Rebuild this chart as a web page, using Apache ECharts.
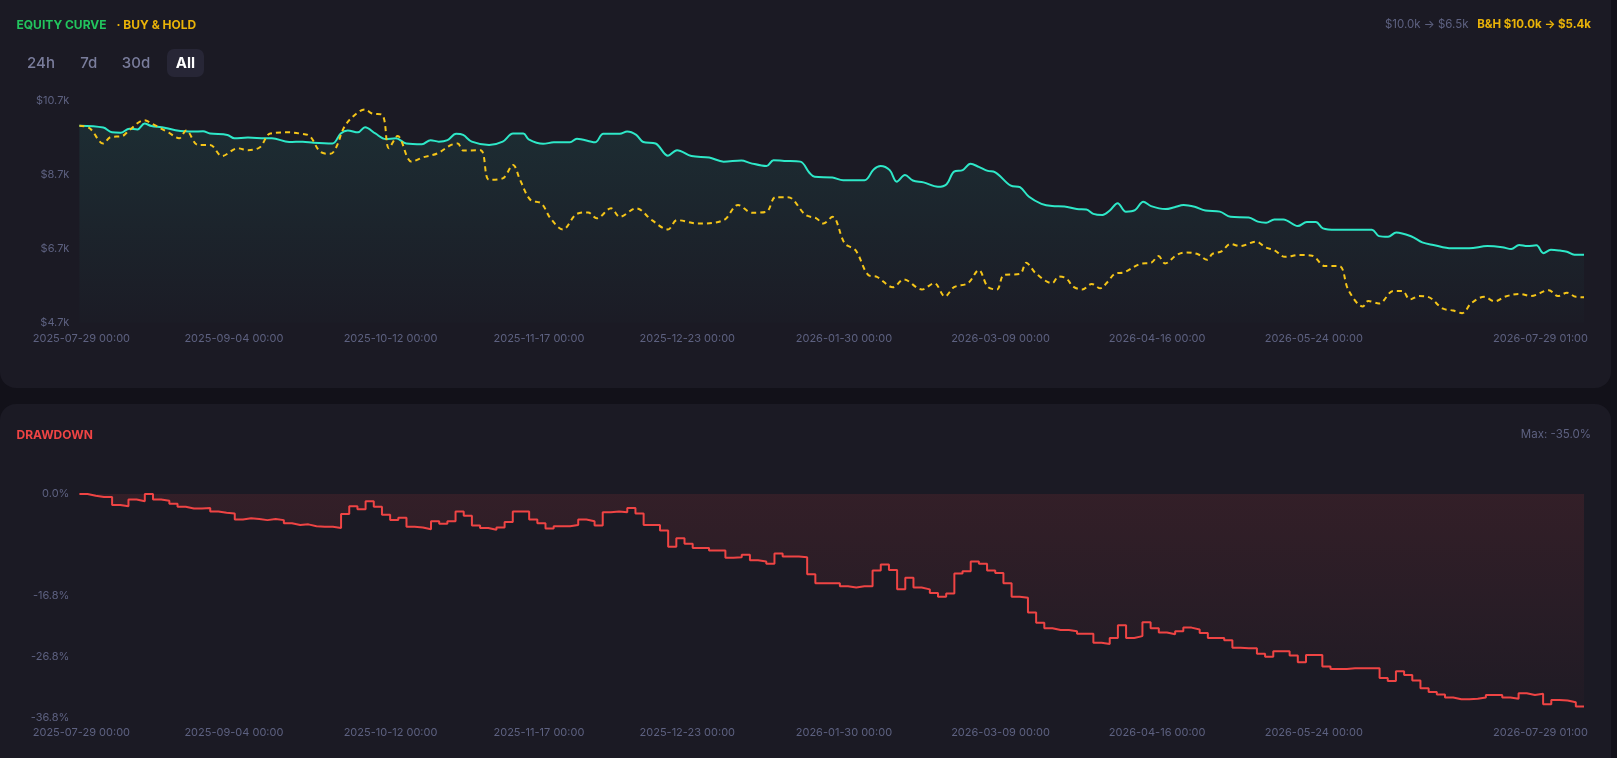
<!DOCTYPE html>
<html>
<head>
<meta charset="utf-8">
<script src="https://cdn.jsdelivr.net/npm/echarts@6/dist/echarts.min.js"></script>
<style>
html,body{margin:0;padding:0;background:#121119;}
#chart{width:1617px;height:758px;}
</style>
</head>
<body>
<div id="chart"></div>
<script>
// ---- Data ----
const START_DATE = [2025, 6, 29, 0, 0];   // 2025-07-29 00:00
const END_DATE = [2026, 6, 29, 1, 0];     // 2026-07-29 01:00

// Strategy equity (k$), day offsets from start
const eqDay = [0,5.8,7.9,10,12.1,14.1,15.8,17.5,20,23.3,27.5,30,31.7,35.9,37.6,40.9,45.1,46.7,50.9,54.2,56.8,61.4,63.4,65.1,67.6,69.3,71.8,74.3,76.8,79.3,83.1,85.2,87.2,89.3,91.4,93.1,95.2,99.4,102.7,105.2,107.7,109,112.5,115.1,119,120.7,125.1,127.1,131.1,132.9,135.1,136.8,139.8,142.8,145,148.5,152.8,156.3,160.6,162.8,166.7,168.4,171,174.9,177.1,178.4,182.7,185.3,190.5,192.7,194.4,196.6,198.3,200.3,202.2,204.8,208.3,210.4,212.2,214.3,216.2,218.2,220.4,222.1,226,228.2,230.4,233.4,236,239,242,244.3,246,248.2,250,251.9,253.9,256.1,258.1,260,263.5,265.7,267.9,270.6,273.2,276.7,279.3,283.7,285.9,287.9,289.9,292.1,295.6,297.8,300,301.7,304.8,313.6,315.3,317.5,319.5,323.2,325.8,328.5,332.9,337.2,341.6,345.2,347.4,349.3,351.3,353.5,355.2,357,359.2,360.9,362.7,365.0417];
const eqVal = [10.02,9.97,9.84,9.83,9.94,9.92,10.08,10.01,9.98,9.90,9.86,9.87,9.81,9.77,9.68,9.70,9.68,9.68,9.58,9.59,9.56,9.54,9.81,9.89,9.84,9.98,9.81,9.66,9.68,9.54,9.52,9.63,9.59,9.63,9.80,9.77,9.59,9.50,9.59,9.81,9.81,9.65,9.53,9.57,9.57,9.67,9.57,9.80,9.80,9.86,9.77,9.58,9.54,9.21,9.36,9.20,9.16,9.05,9.08,9.01,8.93,9.09,9.07,9.05,8.75,8.64,8.62,8.55,8.55,8.84,8.93,8.82,8.51,8.69,8.54,8.49,8.37,8.44,8.78,8.82,8.99,8.91,8.80,8.77,8.40,8.36,8.10,7.91,7.85,7.84,7.77,7.76,7.64,7.61,7.73,7.93,7.70,7.74,7.97,7.85,7.77,7.82,7.88,7.83,7.73,7.70,7.56,7.54,7.43,7.40,7.49,7.49,7.31,7.42,7.42,7.25,7.21,7.21,7.04,7.02,7.14,7.03,6.87,6.80,6.71,6.71,6.77,6.74,6.69,6.80,6.77,6.79,6.58,6.67,6.65,6.62,6.54,6.54];

// Buy & hold (k$), day offsets from start
const bhDay = [0,2.5,5.8,7.5,10.4,12.1,15.8,17.5,21.7,24.2,25.9,28.8,31.7,34.6,38.4,40.9,43.8,46.3,50.9,53.4,55.9,58.4,60.9,62.2,64.3,66.8,69.3,71,73.5,75.1,77.2,80.6,83.5,86.8,90.2,91.8,93.1,97.3,99.4,102.7,105.2,106.9,109.4,112.1,114.3,117.3,120.7,123.4,125.5,129,131.1,135.1,138.9,142.8,145,150.2,156.3,159.8,163.2,166.7,168.9,171.9,176.2,178.8,180.5,182.7,185.7,188.3,191.4,193.5,197.4,200,204.4,207.4,210,212.2,215.6,218.2,220.4,222.6,224.3,228.2,229.7,232.1,236,237.6,239.4,241.2,243.3,245.6,247.7,249.5,251.3,253.4,257.4,260,261.8,263.4,266.2,268.4,271.4,273.6,274.9,277.1,279.3,281.5,285.5,287.7,289.9,292.5,296,299.1,302.2,305.7,307.9,311.4,312.7,315.3,318.8,321,322.8,325,327.2,330.7,333.3,335.5,337.7,340.8,343.4,346,349.5,352.1,356.5,358.7,360.9,363.1,365.0417];
const bhVal = [10.02,9.95,9.54,9.71,9.74,9.90,10.17,10.08,9.83,9.68,9.89,9.50,9.50,9.20,9.41,9.36,9.44,9.81,9.84,9.81,9.74,9.32,9.26,9.41,9.99,10.31,10.46,10.35,10.31,9.41,9.74,9.05,9.17,9.27,9.50,9.54,9.35,9.36,8.56,8.60,8.96,8.56,8.02,7.92,7.52,7.22,7.64,7.68,7.52,7.79,7.56,7.79,7.47,7.22,7.47,7.38,7.47,7.88,7.67,7.70,8.09,8.09,7.61,7.52,7.38,7.56,6.84,6.66,5.99,5.94,5.66,5.87,5.60,5.77,5.41,5.66,5.77,6.12,5.67,5.60,5.99,6.02,6.32,6.03,5.77,5.95,5.90,5.67,5.60,5.75,5.63,5.81,6.03,6.06,6.29,6.32,6.50,6.30,6.53,6.60,6.55,6.40,6.56,6.63,6.83,6.77,6.89,6.74,6.66,6.48,6.53,6.51,6.23,6.23,5.58,5.14,5.29,5.22,5.56,5.56,5.33,5.42,5.40,5.09,5.03,4.96,5.23,5.40,5.28,5.41,5.48,5.42,5.58,5.42,5.51,5.40,5.39];

// Drawdown (%), evenly spaced samples over the full period
const ddVal = [0.0,-0.3,-0.5,-0.5,-1.8,-2.0,-0.9,-1.2,0.0,-0.9,-1.1,-1.6,-2.1,-2.4,-2.4,-2.3,-2.9,-3.1,-3.2,-4.2,-4.0,-4.1,-4.3,-4.1,-4.3,-4.8,-5.1,-5.0,-5.3,-5.4,-5.4,-5.6,-3.3,-2.0,-2.5,-1.2,-2.1,-3.4,-4.3,-3.9,-5.4,-5.5,-5.8,-4.5,-4.9,-4.5,-2.9,-3.6,-5.2,-5.6,-5.9,-5.5,-4.6,-2.9,-2.9,-4.2,-4.8,-5.7,-5.3,-5.3,-5.1,-4.2,-4.5,-5.2,-3.0,-2.9,-3.0,-2.3,-3.2,-5.1,-5.1,-6.0,-8.7,-7.3,-8.2,-8.9,-8.9,-9.3,-9.3,-10.5,-10.4,-10.0,-10.9,-11.1,-11.5,-9.8,-10.3,-10.3,-10.4,-13.2,-14.7,-14.7,-14.7,-15.2,-15.4,-15.2,-15.2,-12.6,-11.6,-12.5,-15.7,-13.8,-15.4,-15.7,-16.3,-16.9,-16.4,-13.1,-12.7,-11.1,-11.5,-12.6,-13.0,-14.7,-16.9,-17.1,-19.5,-21.2,-22.1,-22.4,-22.4,-22.6,-23.0,-23.0,-24.5,-24.7,-23.7,-21.6,-23.7,-23.4,-21.1,-22.1,-22.8,-23.1,-22.6,-22.0,-22.3,-22.9,-23.7,-23.7,-24.1,-25.3,-25.4,-25.4,-26.3,-26.8,-25.9,-25.9,-26.6,-27.7,-26.5,-26.5,-28.4,-28.8,-28.8,-28.7,-28.7,-28.7,-28.7,-30.3,-30.8,-29.2,-29.8,-30.7,-32.0,-32.6,-33.0,-33.5,-33.8,-33.8,-33.7,-33.5,-33.1,-33.1,-33.5,-33.7,-32.8,-33.1,-32.9,-34.6,-33.9,-34.0,-34.3,-35.0,-35.0];

// Axis ticks
const xTickDates = [[2025,6,29,0],[2025,8,4,0],[2025,9,12,0],[2025,10,17,0],[2025,11,23,0],[2026,0,30,0],[2026,2,9,0],[2026,3,16,0],[2026,4,24,0],[2026,6,29,1]];
const eqTicks = {min: 4700, max: 10700, interval: 2000};
const ddTicks = [0, -16.8, -26.8, -36.8];
const ddMin = -36.8;

// ---- Build ----
const DAY = 86400000;
const START = new Date(...START_DATE).getTime();
const END = new Date(...END_DATE).getTime();
const xTicks = xTickDates.map(d => new Date(d[0], d[1], d[2], d[3], 0).getTime());
const eqData = eqDay.map((d, i) => [START + d * DAY, eqVal[i] * 1000]);
const bhData = bhDay.map((d, i) => [START + d * DAY, bhVal[i] * 1000]);
const ddStep = (END - START) / (ddVal.length - 1);
const ddData = ddVal.map((v, i) => [START + i * ddStep, v]);

const pad = n => String(n).padStart(2, '0');
const fmtDate = v => { const d = new Date(v); return d.getFullYear() + '-' + pad(d.getMonth() + 1) + '-' + pad(d.getDate()) + ' ' + pad(d.getHours()) + ':' + pad(d.getMinutes()); };

const AXIS_C = '#5d6180';
const PANEL = '#1b1a24';
const FONT = 'Inter';

function xAxisCfg(gi) {
  return {
    type: 'value', gridIndex: gi, min: START, max: END, scale: true,
    axisLine: {show: false}, axisTick: {show: false}, splitLine: {show: false},
    axisLabel: {
      customValues: xTicks, formatter: fmtDate, color: AXIS_C, fontSize: 11, fontFamily: FONT,
      margin: 10, padding: [0, -4, 0, 0], alignMinLabel: 'center', alignMaxLabel: 'right', hideOverlap: false
    }
  };
}

const chart = echarts.init(document.getElementById('chart'));
chart.setOption({
  backgroundColor: '#121119',
  animation: false,
  textStyle: {fontFamily: FONT},
  graphic: [
    {type: 'rect', z: 0, shape: {x: 0, y: -20, width: 1611, height: 408, r: 16}, style: {fill: PANEL}},
    {type: 'rect', z: 0, shape: {x: 0, y: 404, width: 1611, height: 380, r: 16}, style: {fill: PANEL}},
    {type: 'text', z: 1, x: 16.5, y: 25, style: {text: 'EQUITY CURVE', fill: '#22c55e', fontSize: 12, fontWeight: 'bold', fontFamily: FONT, verticalAlign: 'middle'}},
    {type: 'text', z: 1, x: 116.5, y: 25, style: {text: '· BUY & HOLD', fill: '#eab308', fontSize: 12, fontWeight: 'bold', fontFamily: FONT, verticalAlign: 'middle'}},
    {type: 'text', z: 1, x: 1468.5, y: 25, style: {text: '$10.0k → $6.5k', fill: AXIS_C, fontSize: 11.5, fontFamily: FONT, align: 'right', verticalAlign: 'middle'}},
    {type: 'text', z: 1, x: 1591, y: 25, style: {text: 'B&H $10.0k → $5.4k', fill: '#eab308', fontSize: 11.5, fontWeight: 'bold', fontFamily: FONT, align: 'right', verticalAlign: 'middle'}},
    {type: 'rect', z: 1, shape: {x: 167, y: 49, width: 37, height: 28, r: 7}, style: {fill: '#272636'}},
    {type: 'text', z: 2, x: 41, y: 63.5, style: {text: '24h', fill: '#7a7d9c', fontSize: 15, fontWeight: 500, fontFamily: FONT, align: 'center', verticalAlign: 'middle'}},
    {type: 'text', z: 2, x: 88.7, y: 63.5, style: {text: '7d', fill: '#7a7d9c', fontSize: 15, fontWeight: 500, fontFamily: FONT, align: 'center', verticalAlign: 'middle'}},
    {type: 'text', z: 2, x: 136, y: 63.5, style: {text: '30d', fill: '#7a7d9c', fontSize: 15, fontWeight: 500, fontFamily: FONT, align: 'center', verticalAlign: 'middle'}},
    {type: 'text', z: 2, x: 185.5, y: 63.5, style: {text: 'All', fill: '#ffffff', fontSize: 15, fontWeight: 'bold', fontFamily: FONT, align: 'center', verticalAlign: 'middle'}},
    {type: 'text', z: 1, x: 16.5, y: 435, style: {text: 'DRAWDOWN', fill: '#ef4444', fontSize: 12, fontWeight: 'bold', fontFamily: FONT, verticalAlign: 'middle'}},
    {type: 'text', z: 1, x: 1591, y: 435, style: {text: 'Max: -35.0%', fill: AXIS_C, fontSize: 11.5, fontFamily: FONT, align: 'right', verticalAlign: 'middle'}}
  ],
  grid: [
    {left: 79.4, right: 33, top: 100.5, height: 222.3},
    {left: 79.4, right: 33, top: 494, height: 223.5}
  ],
  xAxis: [xAxisCfg(0), xAxisCfg(1)],
  yAxis: [
    {
      type: 'value', gridIndex: 0, min: eqTicks.min, max: eqTicks.max, interval: eqTicks.interval,
      axisLine: {show: false}, axisTick: {show: false}, splitLine: {show: false},
      axisLabel: {formatter: v => '$' + (v / 1000).toFixed(1) + 'k', color: AXIS_C, fontSize: 11, fontFamily: FONT, margin: 10}
    },
    {
      type: 'value', gridIndex: 1, min: ddMin, max: 0,
      axisLine: {show: false}, axisTick: {show: false}, splitLine: {show: false},
      axisLabel: {customValues: ddTicks, formatter: v => v.toFixed(1) + '%', color: AXIS_C, fontSize: 11, fontFamily: FONT, margin: 10}
    }
  ],
  series: [
    {
      name: 'Equity', type: 'line', xAxisIndex: 0, yAxisIndex: 0, data: eqData,
      smooth: 0.35, symbol: 'none', z: 3,
      lineStyle: {color: '#2ee8c8', width: 2},
      areaStyle: {origin: 'start', color: new echarts.graphic.LinearGradient(0, 0, 0, 1, [
        {offset: 0, color: 'rgba(46,232,200,0.13)'}, {offset: 1, color: 'rgba(46,232,200,0.01)'}])}
    },
    {
      name: 'Buy & Hold', type: 'line', xAxisIndex: 0, yAxisIndex: 0, data: bhData,
      smooth: 0.35, symbol: 'none', z: 4,
      lineStyle: {color: '#f5c518', width: 2, type: [5, 4]}
    },
    {
      name: 'Drawdown', type: 'line', xAxisIndex: 1, yAxisIndex: 1, data: ddData,
      step: 'end', symbol: 'none', z: 3,
      lineStyle: {color: '#ef4444', width: 2},
      areaStyle: {color: new echarts.graphic.LinearGradient(0, 0, 0, 1, [
        {offset: 0, color: 'rgba(239,68,68,0.16)'}, {offset: 1, color: 'rgba(239,68,68,0.03)'}])}
    }
  ]
});
</script>
</body>
</html>
